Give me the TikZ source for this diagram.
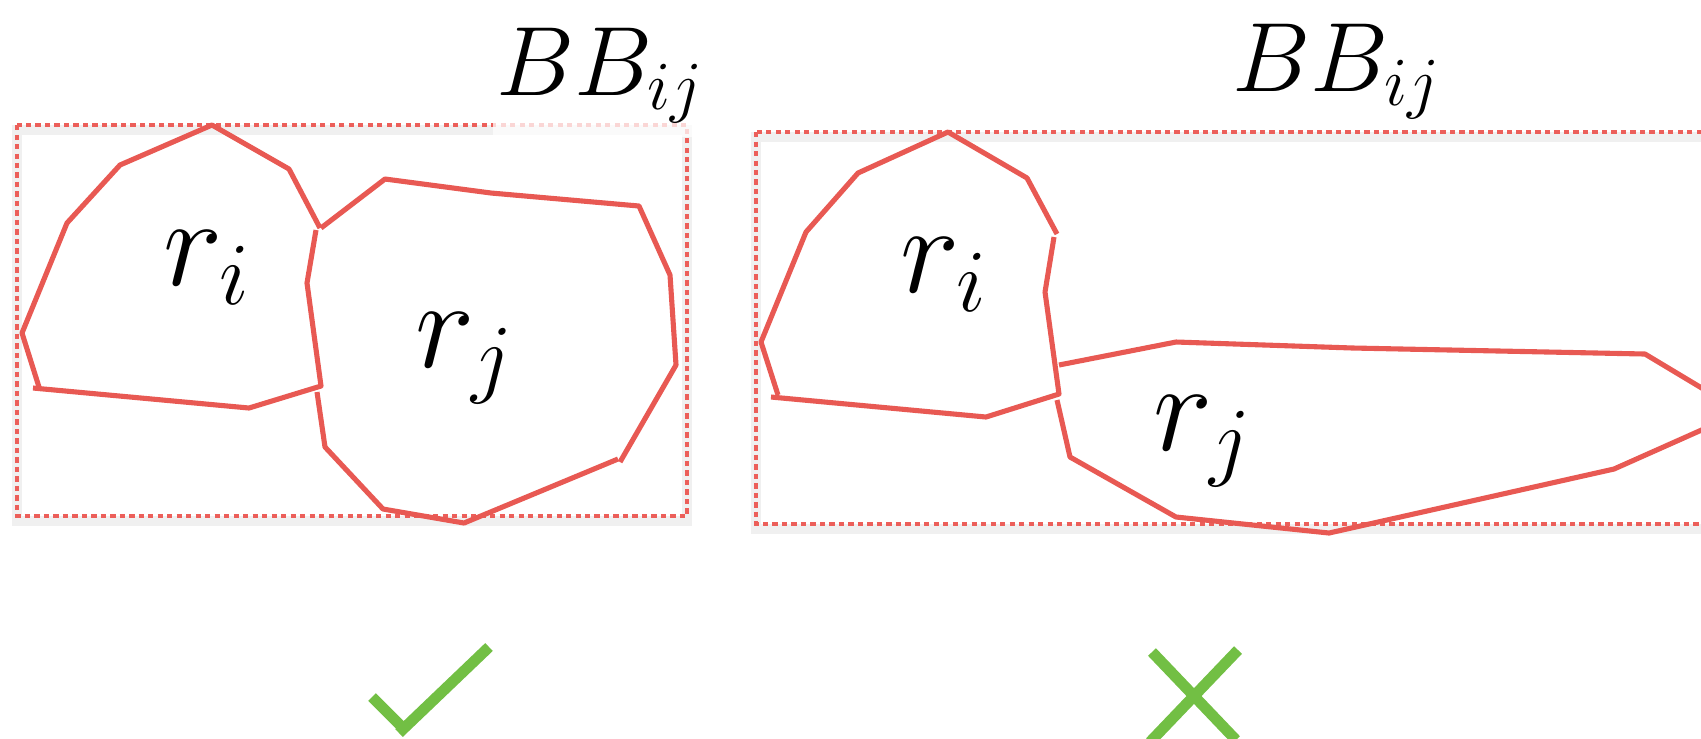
\RequirePackage{fix-cm}
\documentclass[tikz,border=0pt]{standalone}
\usepackage{xcolor}
\usepackage{tikz}
\definecolor{regRed}{HTML}{E85953}
\definecolor{boxRed}{HTML}{EC5F5A}
\definecolor{markGreen}{HTML}{72BF44}

\begin{document}
\begin{tikzpicture}[
  x=0.01cm, y=-0.01cm,
  region/.style={draw=regRed,line width=1.45pt,line join=round},
  bbox/.style={draw=boxRed,line width=1.3pt,dash pattern=on 1.5pt off 1.2pt},
  bbshadow/.style={draw=black,line width=3pt,draw opacity=0.06},
  bblabel/.style={anchor=base west,inner sep=0pt,font=\fontsize{28}{30}\selectfont},
  rlabel/.style={anchor=base west,inner sep=0pt,font=\fontsize{36}{40}\selectfont},
  verdict/.style={draw=markGreen,line width=3.1pt,line cap=butt},
]
  \useasboundingbox (0,0) rectangle (1701,738);
  \clip (0,0) rectangle (1701,738);

  % left case: bounding box fits both regions
  \draw[bbshadow,shift={(0,5)}] (17,125) rectangle (687,516);
  \draw[bbox] (17,125) rectangle (687,516);
  \node[bblabel,fill=white,fill opacity=0.75,text opacity=1,
        inner xsep=1pt,inner ysep=4pt] (bbL) at (492,95) {$BB_{ij}$};

  \draw[region] (39,387) -- (22,333) -- (67,223) -- (120,165) -- (212,125)
    -- (289,169) -- (320,228);
  \draw[region] (316,230) -- (307,283) -- (321,386) -- (249,408) -- (33,388);
  \draw[region] (321,228) -- (385,179) -- (491,193) -- (639,206) -- (670,275)
    -- (676,365) -- (620,462);
  \draw[region] (618,459) -- (464,523) -- (383,509) -- (325,447) -- (317,392);

  \node[rlabel] (riL) at (163,285) {$r_i$};
  \node[rlabel] (rjL) at (415,367) {$r_j$};

  % right case: bounding box much larger than the regions
  \draw[bbshadow,shift={(0,5)}] (756,132) rectangle (1720,524);
  \draw[bbox] (756,132) rectangle (1720,524);
  \node[bblabel] (bbR) at (1232,91) {$BB_{ij}$};

  \draw[region] (778,395) -- (761,342) -- (806,232) -- (858,173) -- (948,132)
    -- (1027,178) -- (1057,234);
  \draw[region] (1054,237) -- (1045,292) -- (1059,394) -- (986,417) -- (771,397);
  \draw[region] (1059,365) -- (1176,342) -- (1353,348) -- (1645,354)
    -- (1715,396) -- (1715,424) -- (1614,469) -- (1329,533) -- (1176,517)
    -- (1070,457) -- (1057,400);

  \node[rlabel] (riR) at (900,292) {$r_i$};
  \node[rlabel] (rjR) at (1153,450) {$r_j$};

  % verdicts
  \coordinate (okA) at (372,697);
  \coordinate (okB) at (406,731);
  \coordinate (okC) at (399,733);
  \coordinate (okD) at (489,647);
  \draw[verdict] (okA) -- (okB);
  \draw[verdict] (okC) -- (okD);

  \coordinate (noA) at (1152,652);
  \coordinate (noB) at (1236,740);
  \coordinate (noC) at (1238,650);
  \coordinate (noD) at (1150,742);
  \draw[verdict] (noA) -- (noB);
  \draw[verdict] (noC) -- (noD);
\end{tikzpicture}
\end{document}
